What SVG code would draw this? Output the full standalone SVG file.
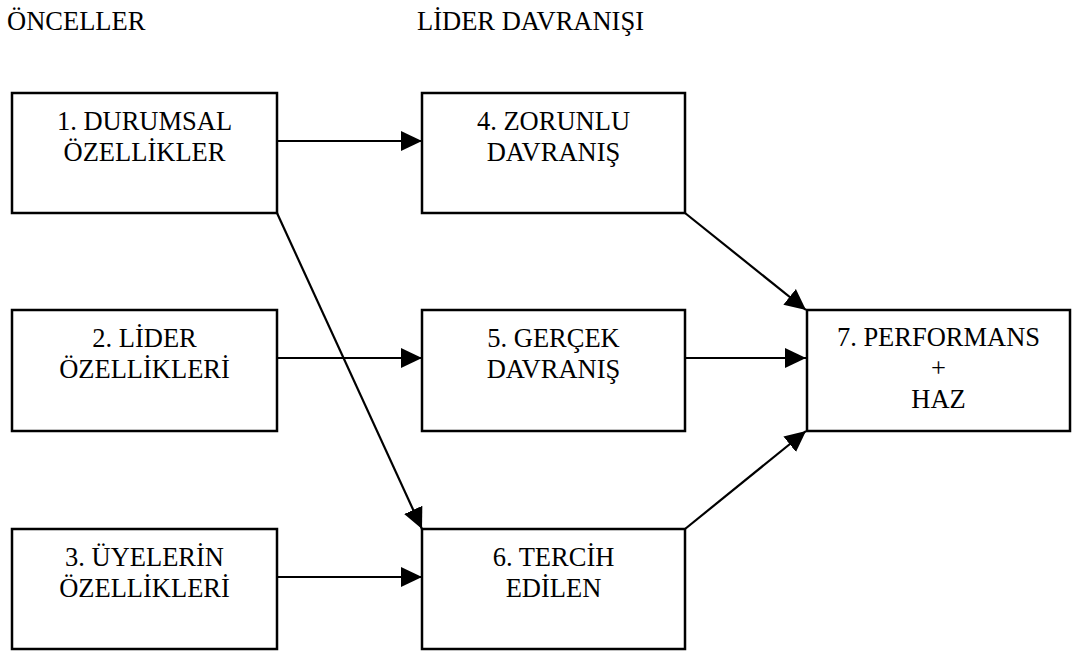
<svg xmlns="http://www.w3.org/2000/svg" width="1073" height="653" viewBox="0 0 1073 653">
<style>
.box{fill:#fff;stroke:#000;stroke-width:2.5}
.t{font-family:"Liberation Serif","Times New Roman",serif;font-size:26.5px;fill:#000}
.c{text-anchor:middle}
.ln{stroke:#000;stroke-width:2.2;fill:none;marker-end:url(#ah)}
</style>
<defs>
<marker id="ah" markerUnits="userSpaceOnUse" markerWidth="22" markerHeight="22" viewBox="0 0 22 22" refX="21" refY="11" orient="auto">
<path d="M0,1 L21,11 L0,21 Z" fill="#000"/>
</marker>
</defs>
<rect width="1073" height="653" fill="#fff"/>
<text class="t" x="7" y="30">ÖNCELLER</text>
<text class="t" x="417" y="30">LİDER DAVRANIŞI</text>
<g id="connectors">
<line class="ln" x1="277" y1="141" x2="422" y2="141"/>
<line class="ln" x1="277" y1="358" x2="422" y2="358"/>
<line class="ln" x1="277" y1="577" x2="422" y2="577"/>
<line class="ln" x1="277" y1="213" x2="422" y2="529"/>
<line class="ln" x1="685" y1="213" x2="806" y2="310"/>
<line class="ln" x1="685" y1="358" x2="806" y2="358"/>
<line class="ln" x1="685" y1="529" x2="806" y2="431"/>
</g>
<g id="n1"><rect class="box" x="12" y="93" width="265" height="120"/>
<text class="t c" x="144.5" y="130">1. DURUMSAL</text><text class="t c" x="144.5" y="161">ÖZELLİKLER</text></g>
<g id="n2"><rect class="box" x="12" y="310" width="265" height="121"/>
<text class="t c" x="144.5" y="347">2. LİDER</text><text class="t c" x="144.5" y="378">ÖZELLİKLERİ</text></g>
<g id="n3"><rect class="box" x="12" y="529" width="265" height="120"/>
<text class="t c" x="144.5" y="566">3. ÜYELERİN</text><text class="t c" x="144.5" y="597">ÖZELLİKLERİ</text></g>
<g id="n4"><rect class="box" x="422" y="93" width="263" height="120"/>
<text class="t c" x="553.5" y="130">4. ZORUNLU</text><text class="t c" x="553.5" y="161">DAVRANIŞ</text></g>
<g id="n5"><rect class="box" x="422" y="310" width="263" height="121"/>
<text class="t c" x="553.5" y="347">5. GERÇEK</text><text class="t c" x="553.5" y="378">DAVRANIŞ</text></g>
<g id="n6"><rect class="box" x="422" y="529" width="263" height="120"/>
<text class="t c" x="553.5" y="566">6. TERCİH</text><text class="t c" x="553.5" y="597">EDİLEN</text></g>
<g id="n7"><rect class="box" x="807" y="310" width="263" height="121"/>
<text class="t c" x="938.5" y="346">7. PERFORMANS</text><text class="t c" x="938.5" y="377">+</text><text class="t c" x="938.5" y="408">HAZ</text></g>
</svg>
